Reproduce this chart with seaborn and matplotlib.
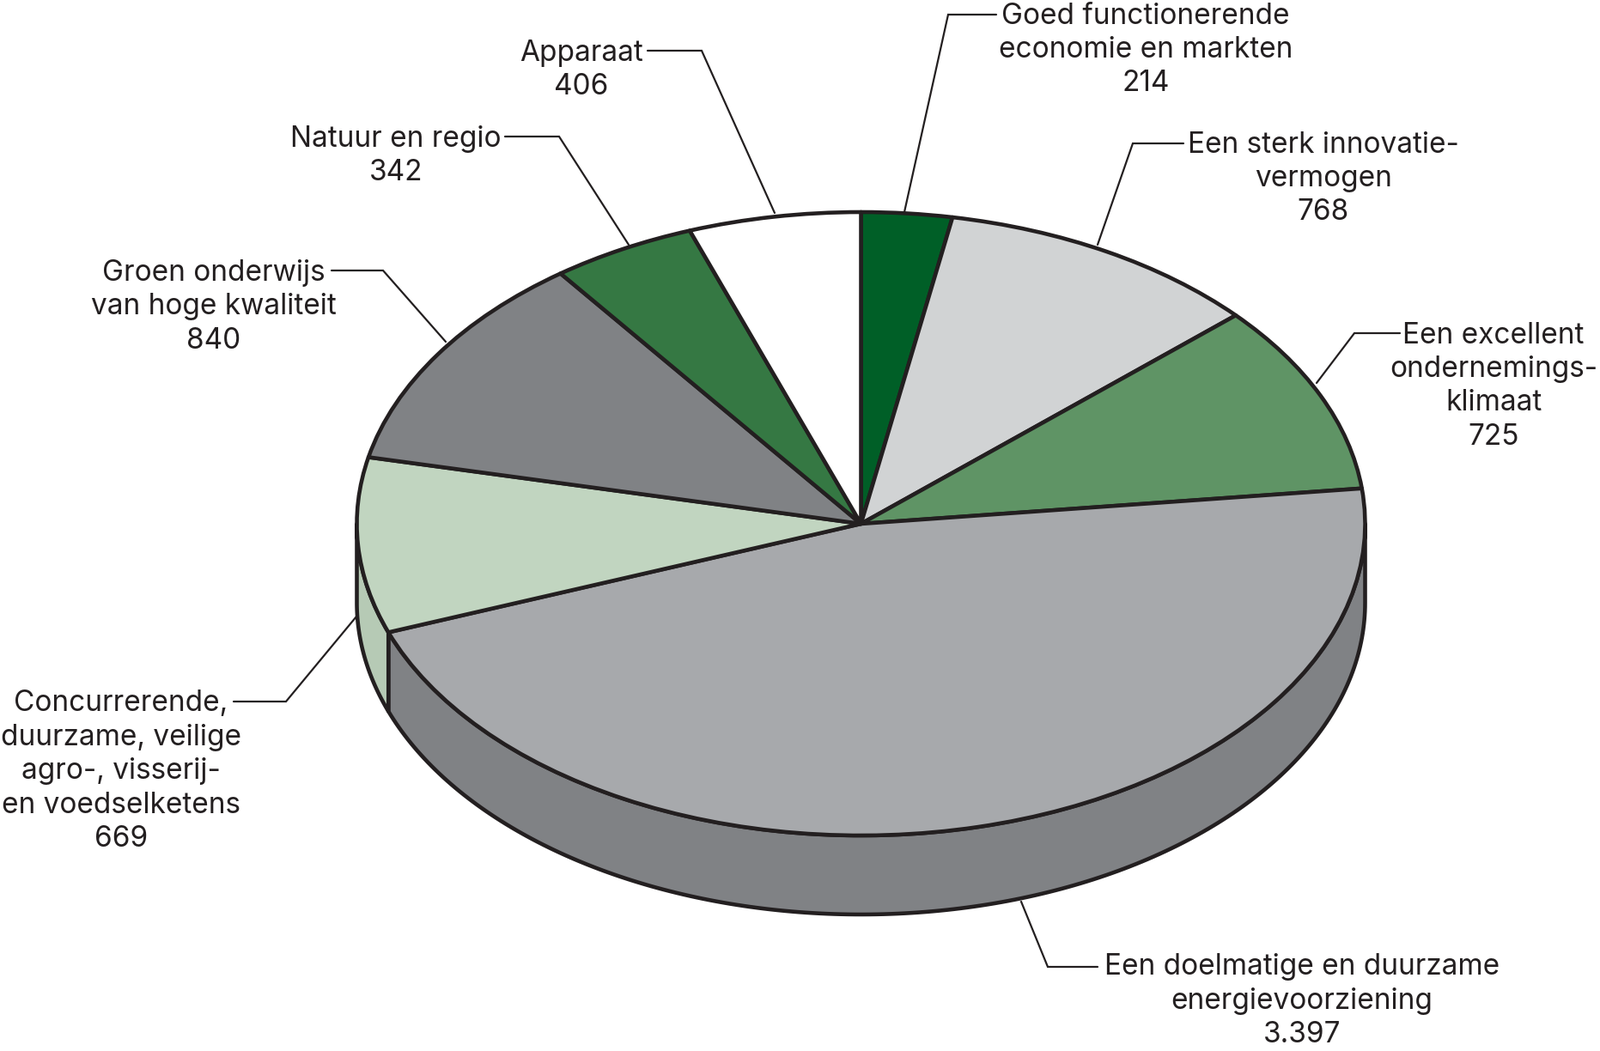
import numpy as np
import matplotlib
matplotlib.use("Agg")
import matplotlib.pyplot as plt
import seaborn as sns

# ---- data ----
labels = [
    "Goed functionerende\neconomie en markten",
    "Een sterk innovatie-\nvermogen",
    "Een excellent\nondernemings-\nklimaat",
    "Een doelmatige en duurzame\nenergievoorziening",
    "Concurrerende,\nduurzame, veilige\nagro-, visserij-\nen voedselketens",
    "Groen onderwijs\nvan hoge kwaliteit",
    "Natuur en regio",
    "Apparaat",
]
values = [214, 768, 725, 3397, 669, 840, 342, 406]
value_labels = ["214", "768", "725", "3.397", "669", "840", "342", "406"]
top_colors = ["#005f27", "#d1d3d4", "#5f9465", "#a7a9ac", "#c1d5c0", "#808285", "#357843", "#ffffff"]
side_colors = ["#004d20", "#b9bbbd", "#527f57", "#808285", "#b6cab5", "#6d6f72", "#2d6638", "#e6e6e6"]

# ---- layout (pixels) ----
W, H = 1863, 1224
CX, CY, RX, RY, DEPTH = 1002.5, 610, 587, 363, 92
EDGE = "#231f20"
LINE_H = 39.5
CAP = 23
# label anchor: (center x, cap-center y of first line)
label_pos = [(1334, 16), (1541, 166), (1739, 388), (1516, 1124),
             (141, 817), (249, 315), (461, 159), (677, 59)]
leaders = [
    [(1053, 247), (1104, 17), (1160, 17)],
    [(1278, 285), (1319, 167), (1378, 167)],
    [(1533, 446), (1577, 388), (1630, 388)],
    [(1189, 1050), (1220, 1126), (1278, 1126)],
    [(415, 718), (333, 817), (272, 817)],
    [(519, 398), (446, 315), (386, 315)],
    [(732, 285), (651, 159), (588, 159)],
    [(902, 248), (817, 59), (754, 59)],
]

sns.set_theme(style="white")
plt.rcParams["font.family"] = ["Inter", "DejaVu Sans"]

fig = plt.figure(figsize=(W / 100, H / 100), dpi=100)
ax = fig.add_axes([0, 0, 1, 1])
wedges, _ = ax.pie(values, colors=top_colors, startangle=90, counterclock=False,
                   radius=1, center=(0, 0), frame=False,
                   wedgeprops=dict(edgecolor=EDGE, linewidth=3.3, joinstyle="round"))
ax.set_aspect("auto")
ax.set_xlim(-CX / RX, (W - CX) / RX)
ax.set_ylim((CY - H) / RY, CY / RY)
ax.axis("off")

d = DEPTH / RY
for w, sc in zip(wedges, side_colors):
    t1, t2 = w.theta1, w.theta2
    for lo, hi in [(180, 360), (-180, 0)]:
        a, b = max(t1, lo), min(t2, hi)
        if b > a:
            t = np.radians(np.linspace(a, b, 200))
            xs, ys = np.cos(t), np.sin(t)
            ax.fill(np.concatenate([xs, xs[::-1]]),
                    np.concatenate([ys, ys[::-1] - d]),
                    facecolor=sc, edgecolor=EDGE, linewidth=3.3,
                    joinstyle="round", zorder=0.5)

# overlay in pixel coordinates for labels
ax2 = fig.add_axes([0, 0, 1, 1])
ax2.set_xlim(0, W)
ax2.set_ylim(H, 0)
ax2.axis("off")
ax2.patch.set_alpha(0)

for lab, val, (x, y0), ld in zip(labels, value_labels, label_pos, leaders):
    lines = lab.split("\n") + [val]
    for i, ln in enumerate(lines):
        ax2.text(x, y0 + i * LINE_H + CAP / 2, ln, ha="center", va="baseline",
                 fontsize=24, color="#231f20")
    xs, ys = zip(*ld)
    ax2.plot(xs, ys, color=EDGE, linewidth=1.6, solid_joinstyle="miter")

fig.savefig("out.png", dpi=100)
